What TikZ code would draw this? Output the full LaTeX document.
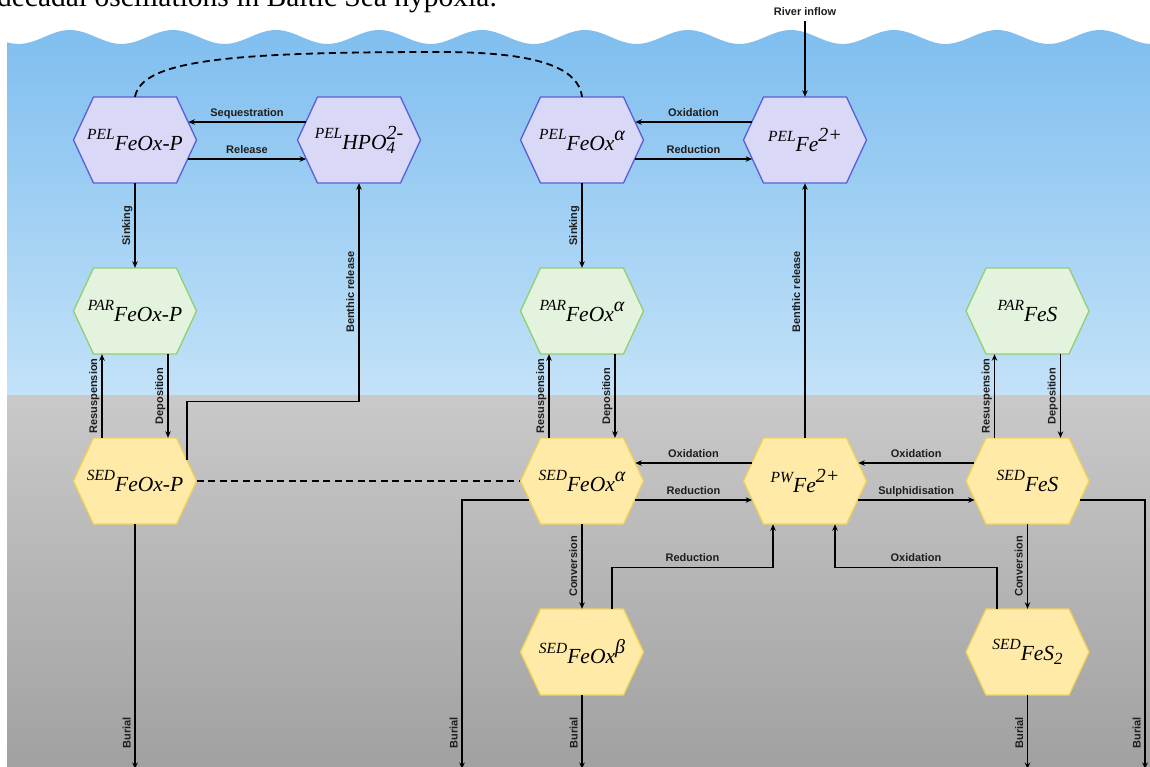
\documentclass[tikz,border=0pt]{standalone}
\usepackage{fontspec}
\setmainfont{Liberation Serif}
\setsansfont{Liberation Sans}
\usetikzlibrary{arrows.meta,calc}
\definecolor{waterTop}{HTML}{7FBEEF}
\definecolor{waterBot}{HTML}{C3E2F8}
\definecolor{sedTop}{HTML}{C9C9C9}
\definecolor{sedBot}{HTML}{A1A1A1}
\definecolor{pelFill}{HTML}{D9D8F7}
\definecolor{pelLine}{HTML}{5A5ED6}
\definecolor{parFill}{HTML}{E3F3DD}
\definecolor{parLine}{HTML}{92CE72}
\definecolor{sedFill}{HTML}{FFEAA8}
\definecolor{sedLine}{HTML}{F0D35A}
\definecolor{ink}{HTML}{1E1E1E}
\newcommand{\prelbl}[1]{\raisebox{10.5pt}{\fontsize{15.5}{15}\selectfont #1}}
\newcommand{\supr}[1]{\raisebox{10pt}{\fontsize{20}{20}\selectfont #1}}
\newcommand{\subr}[1]{\raisebox{-4.5pt}{\fontsize{17}{17}\selectfont #1}}
\newcommand{\hexnode}[5]{%
  \draw[#4] (#2-61.5,#3) -- (#2-41.5,#3-43) -- (#2+41.5,#3-43) -- (#2+61.5,#3) -- (#2+41.5,#3+43) -- (#2-41.5,#3+43) -- cycle;
  \node[hexlbl] (#1) at (#2,#3) {#5};
}
\begin{document}
\begin{tikzpicture}[x=1pt,y=-1pt,
  hexlbl/.style={rectangle, minimum width=123pt, minimum height=86pt, inner sep=0pt, text=black, font=\fontsize{21.5}{23}\selectfont\itshape},
  pel/.style={fill=pelFill, draw=pelLine, line width=1.3pt},
  par/.style={fill=parFill, draw=parLine, line width=1.3pt},
  sed/.style={fill=sedFill, draw=sedLine, line width=1.3pt},
  arr/.style={draw=black, line width=1.2pt, -{Stealth[length=6.5pt,width=5.5pt]}},
  dashln/.style={draw=black, line width=1.8pt, dash pattern=on 7pt off 4.5pt},
  lbl/.style={font=\sffamily\bfseries\fontsize{11}{12}\selectfont, text=ink, inner sep=3.2pt, text depth=2.2pt, text height=7.9pt},
  hl/.style={lbl, above},
  vl/.style={lbl, rotate=90, anchor=south, inner sep=2pt}
]
\useasboundingbox (0,0) rectangle (1150,766);
\clip (0,0) rectangle (1150,766);
\fill[white] (0,0) rectangle (1150,766);
\shade[top color=waterTop, bottom color=waterBot] (7,396) -- plot[domain=7:1150, samples=240] (\x,{37-7*cos(((\x-70)/103)*360)}) -- (1150,396) -- cycle;
\shade[top color=sedTop, bottom color=sedBot] (7,395) rectangle (1150,766);

\node[anchor=base east, font=\fontsize{29.5}{30}\selectfont, inner sep=0pt] (caption) at (497,6) {decadal oscillations in Baltic Sea hypoxia.};

\hexnode{PF}{135}{140}{pel}{\prelbl{PEL}FeOx-P}
\hexnode{PH}{359}{140}{pel}{\prelbl{PEL}HPO\rlap{\subr{4}}\supr{2-}}
\hexnode{PA}{582}{140}{pel}{\prelbl{PEL}FeOx\supr{α}}
\hexnode{PFe}{805}{140}{pel}{\prelbl{PEL}Fe\supr{2+}}
\hexnode{RP}{135}{311}{par}{\prelbl{PAR}FeOx-P}
\hexnode{RA}{582}{311}{par}{\prelbl{PAR}FeOx\supr{α}}
\hexnode{RS}{1027.5}{311}{par}{\prelbl{PAR}FeS}
\hexnode{SP}{135}{481}{sed}{\prelbl{SED}FeOx-P}
\hexnode{SA}{582}{481}{sed}{\prelbl{SED}FeOx\supr{α}}
\hexnode{PW}{805}{481}{sed}{\prelbl{PW}Fe\supr{2+}}
\hexnode{SS}{1027.5}{481}{sed}{\prelbl{SED}FeS}
\hexnode{SB}{582}{652}{sed}{\prelbl{SED}FeOx\supr{β}}
\hexnode{S2}{1027.5}{652}{sed}{\prelbl{SED}FeS\subr{2}}

% pelagic exchanges
\draw[arr] ($(PH.west)+(8.4,-18)$) -- node[hl]{Sequestration} ($(PF.east)+(-8.4,-18)$);
\draw[arr] ($(PF.east)+(-8.8,19)$) -- node[hl]{Release} ($(PH.west)+(8.8,19)$);
\draw[arr] ($(PFe.west)+(8.4,-18)$) -- node[hl]{Oxidation} ($(PA.east)+(-8.4,-18)$);
\draw[arr] ($(PA.east)+(-8.8,19)$) -- node[hl]{Reduction} ($(PFe.west)+(8.8,19)$);
\draw[dashln] (PF.north) .. controls (142,60) and (230,52) .. (440,52) .. controls (530,52) and (578,65) .. (PA.north);

\node[lbl] (river) at (805,13) {River inflow};
\draw[arr] (river.south) -- (PFe.north);

\draw[arr] (PF.south) -- node[vl]{Sinking} (RP.north);
\draw[arr] (PA.south) -- node[vl]{Sinking} (RA.north);

% resuspension / deposition
\draw[arr] ($(SP.north)+(-33,0)$) -- node[vl]{Resuspension} ($(RP.south)+(-33,0)$);
\draw[arr] ($(RP.south)+(33,0)$) -- node[vl]{Deposition} ($(SP.north)+(33,0)$);
\draw[arr] ($(SA.north)+(-33,0)$) -- node[vl]{Resuspension} ($(RA.south)+(-33,0)$);
\draw[arr] ($(RA.south)+(33,0)$) -- node[vl]{Deposition} ($(SA.north)+(33,0)$);
\draw[arr] ($(SS.north)+(-33,0)$) -- node[vl]{Resuspension} ($(RS.south)+(-33,0)$);
\draw[arr] ($(RS.south)+(33,0)$) -- node[vl]{Deposition} ($(SS.north)+(33,0)$);

% benthic release
\draw[arr] ($(SP.east)+(-9.8,-21)$) |- ($(PH.south)+(0,218)$) -- node[vl, pos=0.5]{Benthic release} (PH.south);
\draw[arr] (PW.north) -- node[vl, pos=0.573]{Benthic release} (PFe.south);

% sediment exchanges
\draw[dashln] (SP.east) -- (SA.west);
\draw[arr] ($(PW.west)+(8.4,-18)$) -- node[hl]{Oxidation} ($(SA.east)+(-8.4,-18)$);
\draw[arr] ($(SA.east)+(-8.8,19)$) -- node[hl]{Reduction} ($(PW.west)+(8.8,19)$);
\draw[arr] ($(SS.west)+(8.4,-18)$) -- node[hl]{Oxidation} ($(PW.east)+(-8.4,-18)$);
\draw[arr] ($(PW.east)+(-8.8,19)$) -- node[hl]{Sulphidisation} ($(SS.west)+(8.8,19)$);

\draw[arr] (SA.south) -- node[vl]{Conversion} (SB.north);
\draw[arr] (SS.south) -- node[vl]{Conversion} (S2.north);
\draw[arr] ($(SB.north)+(30,0)$) |- node[hl, pos=0.75]{Reduction} ($(PW.south)+(-32,43)$) -- ($(PW.south)+(-32,0)$);
\draw[arr] ($(S2.north)+(-30.5,0)$) |- node[hl, pos=0.75]{Oxidation} ($(PW.south)+(30,43)$) -- ($(PW.south)+(30,0)$);

% burial
\coordinate (b1) at (135,769);
\coordinate (b2) at (462,769);
\coordinate (b3) at (582,769);
\coordinate (b4) at (1027.5,769);
\coordinate (b5) at (1145,769);
\draw[arr] (SP.south) -- (b1);
\draw[arr] ($(SA.west)+(8.8,19)$) -| (b2);
\draw[arr] (SB.south) -- (b3);
\draw[arr] (S2.south) -- (b4);
\draw[arr] ($(SS.east)+(-8.8,19)$) -| (b5);
\node[vl] (bl1) at (135,733) {Burial};
\node[vl] (bl2) at (462,733) {Burial};
\node[vl] (bl3) at (582,733) {Burial};
\node[vl] (bl4) at (1027.5,733) {Burial};
\node[vl] (bl5) at (1145,733) {Burial};
\end{tikzpicture}
\end{document}
